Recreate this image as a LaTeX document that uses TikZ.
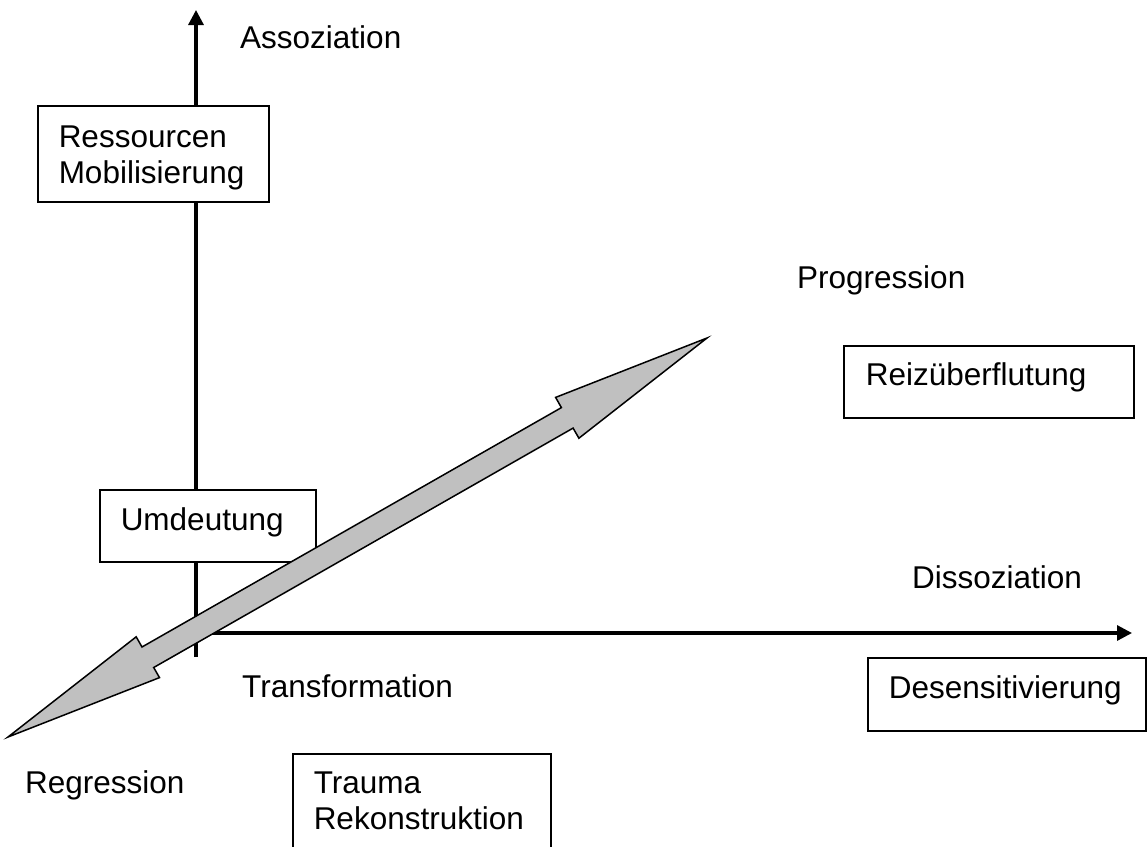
\documentclass[tikz,border=0pt]{standalone}
\usepackage{fontspec}
\setmainfont{Liberation Sans}
\usetikzlibrary{arrows.meta}
\definecolor{arrowgray}{RGB}{192,192,192}
\begin{document}
\begin{tikzpicture}[x=1pt,y=-1pt,
  lbl/.style={font=\fontsize{31.5pt}{36pt}\selectfont, inner sep=0pt, anchor=base west},
  box/.style={draw, fill=white, line width=1.5pt, anchor=north west, align=left,
              font=\fontsize{31.5pt}{36pt}\selectfont, inner ysep=0pt},
  axis/.style={line width=3.2pt, -{Triangle[length=15pt,width=15pt]}},
  bigarrow/.style={draw=black, fill=arrowgray, line width=1.5pt, line join=miter}]
\path[use as bounding box] (0,0) rectangle (1147,846);
\clip (0,0) rectangle (1147,846);

% axes
\coordinate (vbot) at (196,657);
\coordinate (vtop) at (196,10);
\coordinate (hleft) at (196,633);
\coordinate (hright) at (1132,633);
\draw[axis] (vbot) -- (vtop);
\draw[axis] (hleft) -- (hright);

% labels
\node[lbl] (assoz) at (240,48) {Assoziation};
\node[lbl] (progr) at (797,288) {Progression};
\node[lbl] (dissoz) at (912,588) {Dissoziation};
\node[lbl] (transf) at (242,697) {Transformation};
\node[lbl] (regr) at (25,793) {Regression};

% boxes
\node[box, inner xsep=21pt, text width=189pt, text height=42pt, text depth=54pt] (ress) at (37,105) {Ressourcen\\Mobilisierung};
\node[box, inner xsep=21pt, text width=174pt, text height=41pt, text depth=31pt] (umd) at (99,489) {Umdeutung};
\node[box, inner xsep=22pt, text width=246pt, text height=40pt, text depth=32pt] (reiz) at (843,345) {Reizüberflutung};
\node[box, inner xsep=21pt, text width=236pt, text height=41pt, text depth=32pt] (desens) at (867,657) {Desensitivierung};
\node[box, inner xsep=21pt, text width=216pt, text height=40pt, text depth=60pt] (trauma) at (292,753) {Trauma\\Rekonstruktion};

% big double arrow
\coordinate (regtip) at (8,737);
\coordinate (progtip) at (707,338);
\draw[bigarrow] (regtip) -- (136.2,636.8) -- (142.0,647.0) -- (561.4,407.6) -- (555.6,397.4)
  -- (progtip) -- (578.9,438.2) -- (573.1,428.1) -- (153.7,667.5) -- (159.5,677.6) -- cycle;
\end{tikzpicture}
\end{document}
